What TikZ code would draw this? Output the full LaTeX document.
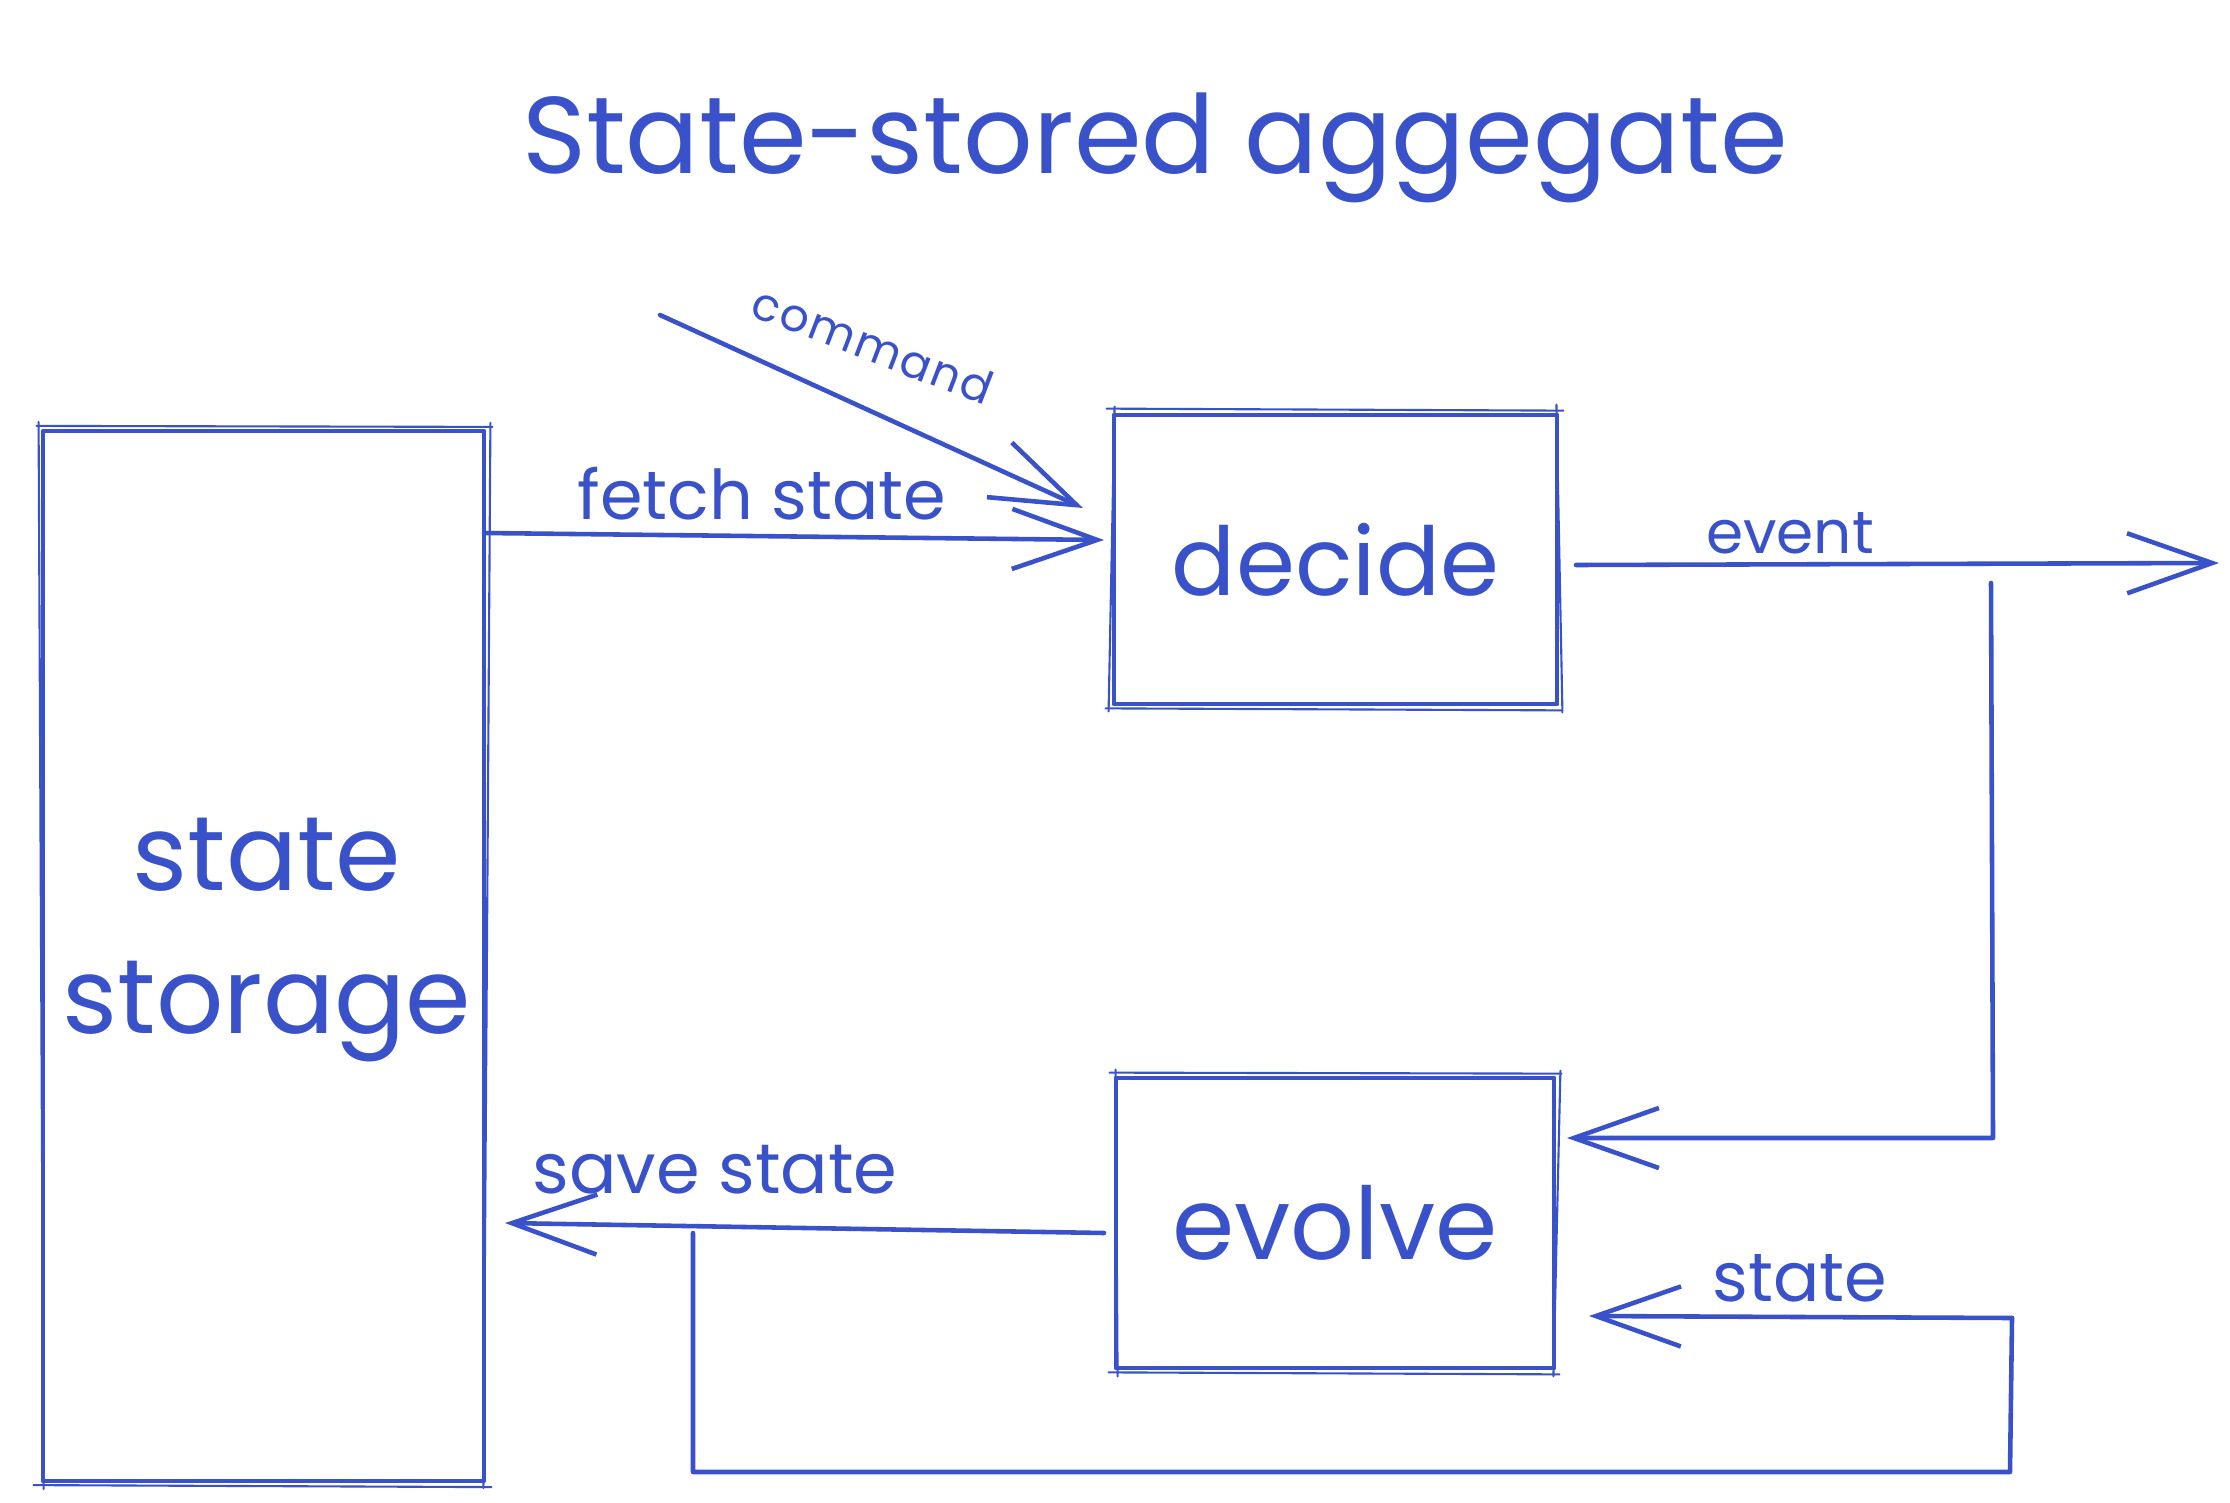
\documentclass[tikz,border=0pt]{standalone}
\usepackage{fontspec}
\setmainfont{Poppins}
\usetikzlibrary{arrows.meta}
\definecolor{ink}{RGB}{57,82,201}
\begin{document}
\begin{tikzpicture}[x=0.01cm,y=-0.01cm,
  inkline/.style={draw=ink, line width=1.3pt, line cap=round, line join=round},
  inkthin/.style={draw=ink, line width=0.6pt, line cap=round, line join=round},
  box/.style={inkline, rectangle, inner sep=0pt},
  lbl/.style={text=ink, inner sep=0pt},
  arr/.style={inkline, -{Straight Barb[length=8.5mm,width=6mm,line width=1.3pt]}},
]
\useasboundingbox (0,0) rectangle (2230,1503);
% title
\node[lbl, font=\fontsize{31}{36}\selectfont] (title) at (1155,148) {State-stored aggegate};
% boxes
\node[box, minimum width=4.41cm, minimum height=10.49cm] (storage) at (263.5,956) {};
\node[box, minimum width=4.43cm, minimum height=2.89cm, text=ink, font=\fontsize{27}{32}\selectfont] (decide) at (1335.5,559.5) {decide};
\node[box, minimum width=4.38cm, minimum height=2.90cm, text=ink, font=\fontsize{28.5}{32}\selectfont] (evolve) at (1335,1223) {evolve};
\node[lbl, font=\fontsize{30}{40.6}\selectfont, align=center] (storagetext) at (267,940) {state\\storage};
% sketchy second strokes on the boxes
\draw[inkthin] ([shift={(-4,-3)}]storage.north west) -- ([shift={(6,-2)}]storage.north east);
\draw[inkthin] ([shift={(4,-6)}]storage.north east) -- ([shift={(-3,5)}]storage.south east);
\draw[inkthin] ([shift={(5,4)}]storage.south east) -- ([shift={(-7,2)}]storage.south west);
\draw[inkthin] ([shift={(3,6)}]storage.south west) -- ([shift={(-2,-7)}]storage.north west);
\draw[inkthin] ([shift={(-5,-4)}]decide.north west) -- ([shift={(4,-2)}]decide.north east);
\draw[inkthin] ([shift={(-3,-8)}]decide.north east) -- ([shift={(3,6)}]decide.south east);
\draw[inkthin] ([shift={(2,4)}]decide.south east) -- ([shift={(-6,2)}]decide.south west);
\draw[inkthin] ([shift={(-3,5)}]decide.south west) -- ([shift={(3,-6)}]decide.north west);
\draw[inkthin] ([shift={(-4,-3)}]evolve.north west) -- ([shift={(5,-2)}]evolve.north east);
\draw[inkthin] ([shift={(4,-5)}]evolve.north east) -- ([shift={(-3,6)}]evolve.south east);
\draw[inkthin] ([shift={(3,4)}]evolve.south east) -- ([shift={(-5,2)}]evolve.south west);
\draw[inkthin] ([shift={(4,6)}]evolve.south west) -- ([shift={(2,-6)}]evolve.north west);
% coordinates
\coordinate (cmdA) at (660,315);
\coordinate (cmdB) at (1083,508);
\coordinate (fetchA) at (484,533);
\coordinate (fetchB) at (1104,540);
\coordinate (evA) at (1576,565);
\coordinate (evB) at (2219,563);
\coordinate (loopTop) at (1991,583);
\coordinate (loopCorner) at (1993,1138);
\coordinate (loopTip) at (1567,1138);
\coordinate (stA) at (2012,1318);
\coordinate (stB) at (1589,1316);
\coordinate (botR) at (2010,1472);
\coordinate (botL) at (693,1472);
\coordinate (joinS) at (693,1233);
\coordinate (saveA) at (1104,1233);
\coordinate (saveB) at (505,1223);
% connectors
\draw[arr] (cmdA) -- (cmdB);
\draw[arr] (fetchA) -- (fetchB);
\draw[arr] (evA) -- (evB);
\draw[arr] (loopTop) -- (loopCorner) -- (loopTip);
\draw[arr] (stA) -- (stB);
\draw[inkline] (stA) -- (botR) -- (botL) -- (joinS);
\draw[arr] (saveA) -- (saveB);
% labels
\node[lbl, font=\fontsize{13}{16}\selectfont\addfontfeature{LetterSpace=4}, rotate=-21] (cmdlbl) at (873,345) {command};
\node[lbl, font=\fontsize{19.5}{22}\selectfont] (fetchlbl) at (762,494) {fetch state};
\node[lbl, font=\fontsize{17}{20}\selectfont] (evlbl) at (1790,533) {event};
\node[lbl, font=\fontsize{19.5}{22}\selectfont] (stlbl) at (1800,1278) {state};
\node[lbl, font=\fontsize{20}{22}\selectfont] (savelbl) at (715,1170) {save state};
\end{tikzpicture}
\end{document}
